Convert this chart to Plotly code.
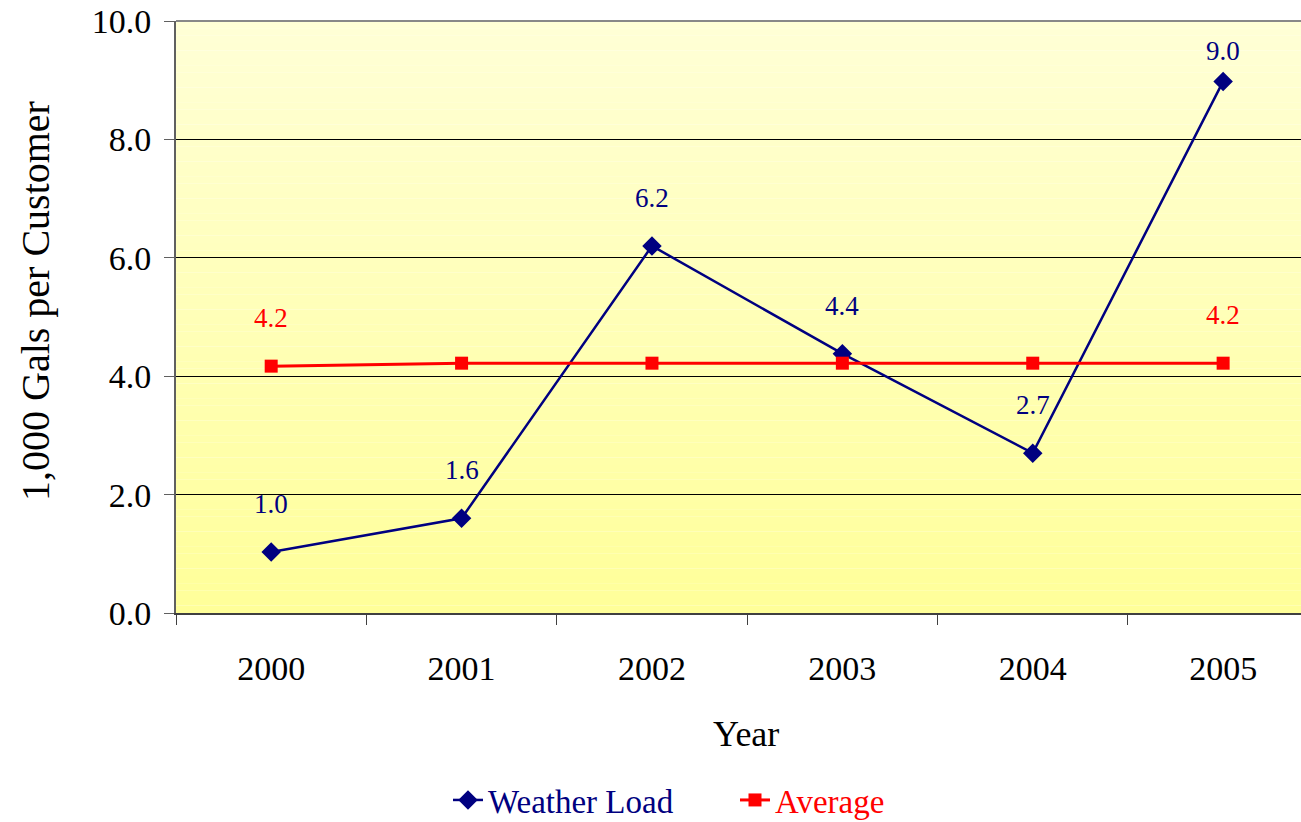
import plotly.graph_objects as go

# Data
years = ["2000", "2001", "2002", "2003", "2004", "2005"]
weather_load = [1.03, 1.60, 6.20, 4.38, 2.70, 8.98]
average = [4.17, 4.22, 4.22, 4.22, 4.22, 4.22]
average_label_years = ["2000", "2005"]
y_ticks = [0, 2, 4, 6, 8, 10]

W, H = 1301, 822
NAVY = "#000080"
RED = "#FF0000"
FONT = "Liberation Serif"

fig = go.Figure()

fig.add_trace(go.Scatter(
    x=years, y=weather_load, mode="lines+markers",
    name=f"<span style='color:{NAVY}'>Weather Load</span>",
    line=dict(color=NAVY, width=2.5),
    marker=dict(symbol="diamond", size=15, color=NAVY),
))
fig.add_trace(go.Scatter(
    x=years, y=average, mode="lines+markers",
    name=f"<span style='color:{RED}'>Average</span>",
    line=dict(color=RED, width=3),
    marker=dict(symbol="square", size=13, color=RED),
))

# vertical gradient behind the plot area
shapes = []
n = 80
top = (255, 255, 214)
bot = (255, 255, 153)
for i in range(n):
    t = (i + 0.5) / n
    c = tuple(round(bot[k] + (top[k] - bot[k]) * t) for k in range(3))
    shapes.append(dict(
        type="rect", xref="x domain", yref="y domain", layer="below",
        x0=0, x1=1, y0=i / n, y1=min(1, (i + 1.02) / n),
        fillcolor=f"rgb{c}", line=dict(width=0),
    ))
# top border of the plot area
shapes.append(dict(type="line", xref="x domain", yref="y domain",
                   x0=0, x1=1, y0=1, y1=1, line=dict(color="#888888", width=2)))

# value labels (category index used as x position)
annotations = []
ymax = y_ticks[-1]
for i, v in enumerate(weather_load):
    shift = 30 if ymax - v < 1.5 else 48
    annotations.append(dict(x=i, y=v, text=f"{v:.1f}", showarrow=False,
                            yshift=shift, font=dict(family=FONT, size=27, color=NAVY)))
for i, (x, v) in enumerate(zip(years, average)):
    if x in average_label_years:
        annotations.append(dict(x=i, y=v, text=f"{v:.1f}", showarrow=False,
                                yshift=48, font=dict(family=FONT, size=27, color=RED)))
# axis titles
annotations.append(dict(xref="paper", yref="paper", x=(746 - 176) / 1125, y=-0.205,
                        text="Year", showarrow=False, xanchor="center", yanchor="middle",
                        font=dict(family=FONT, size=36, color="black")))
annotations.append(dict(xref="paper", yref="paper", x=(35 - 176) / 1125,
                        y=(613 - 301) / 592, textangle=-90,
                        text="1,000 Gals per Customer", showarrow=False,
                        xanchor="center", yanchor="middle",
                        font=dict(family=FONT, size=40, color="black")))

fig.update_layout(
    width=W, height=H,
    margin=dict(l=176, r=0, t=21, b=209),
    paper_bgcolor="white", plot_bgcolor="white",
    font=dict(family=FONT, color="black"),
    shapes=shapes, annotations=annotations,
    showlegend=True,
    legend=dict(orientation="h", xref="container", yref="container",
                x=448 / W, y=1 - 800 / H, xanchor="left", yanchor="middle",
                font=dict(family=FONT, size=33), bgcolor="rgba(0,0,0,0)",
                entrywidth=242, entrywidthmode="pixels"),
)
fig.update_xaxes(
    type="category", range=[-0.5, 5.409],
    showgrid=False, showline=True, linecolor="#404040", linewidth=2,
    ticks="outside", tickson="boundaries", ticklen=10, tickcolor="#404040",
    tickfont=dict(family=FONT, size=34), ticklabelstandoff=24,
    zeroline=False,
)
fig.update_yaxes(
    range=[0, 10], tickvals=y_ticks, tickformat=".1f",
    showgrid=True, gridcolor="black", gridwidth=1,
    showline=True, linecolor="#606060", linewidth=2,
    ticks="outside", ticklen=10, tickcolor="#606060",
    tickfont=dict(family=FONT, size=34), ticklabelstandoff=6, zeroline=False,
)

fig.write_html("out.html")
